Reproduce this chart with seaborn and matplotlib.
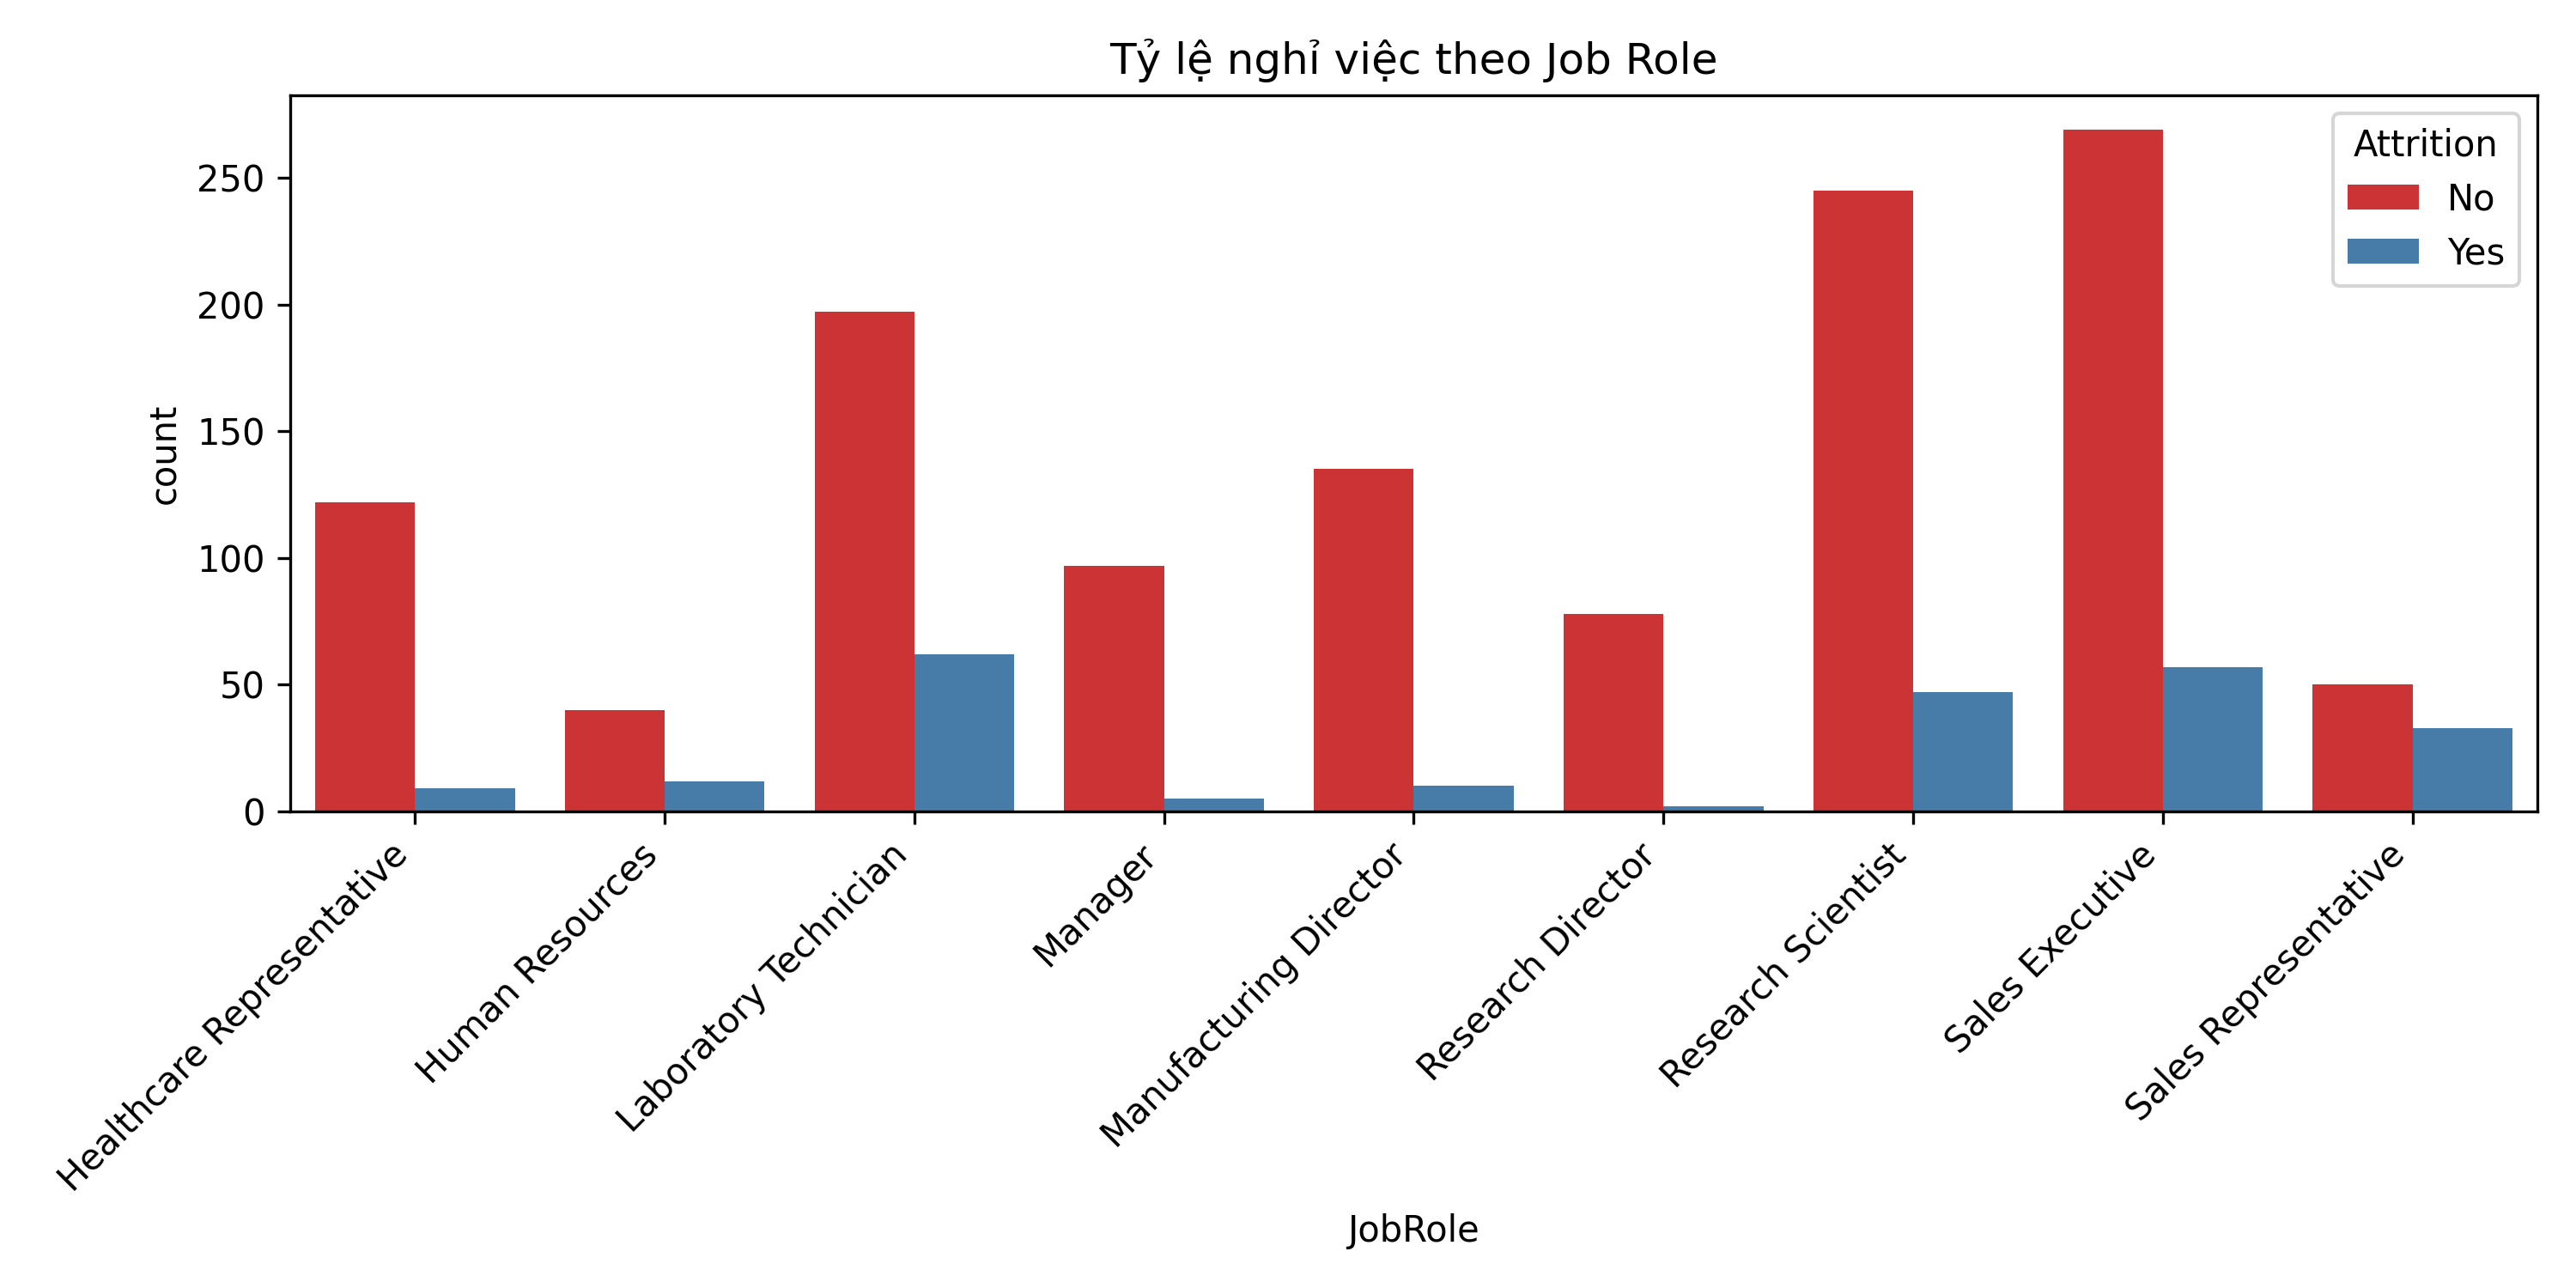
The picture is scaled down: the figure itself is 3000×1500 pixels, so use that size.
import matplotlib
matplotlib.use("Agg")
import matplotlib.pyplot as plt
import seaborn as sns
import pandas as pd

roles = ["Healthcare Representative", "Human Resources", "Laboratory Technician",
         "Manager", "Manufacturing Director", "Research Director",
         "Research Scientist", "Sales Executive", "Sales Representative"]
no_counts = [122, 40, 197, 97, 135, 78, 245, 269, 50]
yes_counts = [9, 12, 62, 5, 10, 2, 47, 57, 33]

df = pd.DataFrame({
    "JobRole": roles * 2,
    "count": no_counts + yes_counts,
    "Attrition": ["No"] * len(roles) + ["Yes"] * len(roles),
})

fig, ax = plt.subplots(figsize=(10, 5), dpi=300)
sns.barplot(data=df, x="JobRole", y="count", hue="Attrition",
            palette="Set1", order=roles, hue_order=["No", "Yes"], ax=ax)
ax.set_title("Tỷ lệ nghỉ việc theo Job Role")
plt.setp(ax.get_xticklabels(), rotation=45, ha="right")
plt.tight_layout()
fig.savefig("out.png", dpi=300)
